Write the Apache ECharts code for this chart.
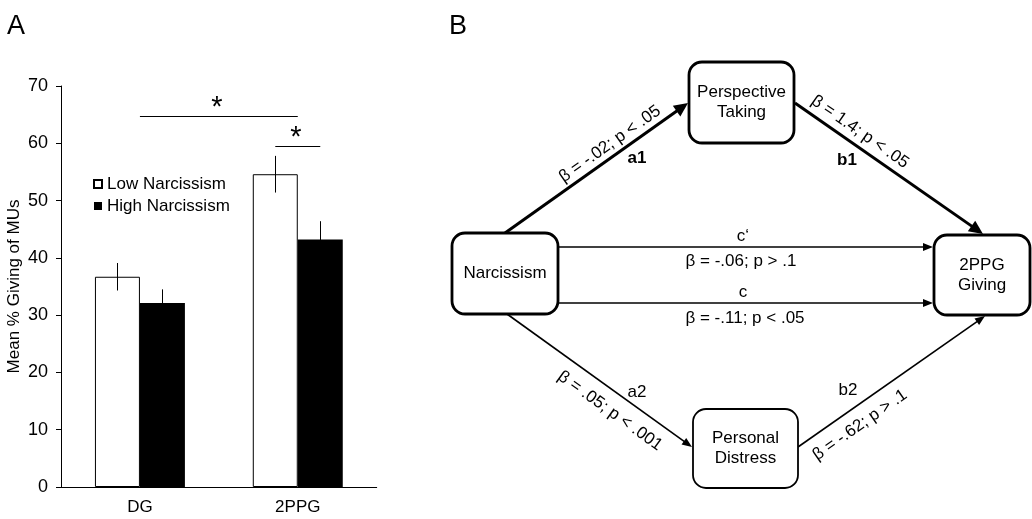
<!DOCTYPE html>
<html><head><meta charset="utf-8">
<script src="https://cdn.jsdelivr.net/npm/echarts@6/dist/echarts.min.js"></script>
<style>html,body{margin:0;padding:0;background:#fff}#chart{width:1032px;height:519px}</style>
</head><body><div id="chart"></div>
<script>
// ---------- Panel A data ----------
const categories = ['DG', '2PPG'];
const seriesNames = ['Low Narcissism', 'High Narcissism'];
const lowValues = [36.7, 54.6];
const highValues = [32.1, 43.2];
const lowErrors = [2.4, 3.2];
const highErrors = [2.4, 3.2];
const yMin = 0, yMax = 70, yStep = 10;
// significance brackets: (category, bar slot: -1 low, 0 centre, 1 high) for each end, height
const sigFromCat = [0, 1];
const sigFromSlot = [0, -1];
const sigToCat = [1, 1];
const sigToSlot = [0, 1];
const sigHeights = [64.7, 59.5];
const sigMarks = ['*', '*'];

// ---------- Panel B data ----------
const nodeNames = ['Narcissism', 'Perspective\nTaking', 'Personal\nDistress', '2PPG\nGiving'];
const pathNames = ['a1', 'b1', 'c\u2018', 'c', 'a2', 'b2'];
const pathStats = ['\u03B2 = -.02; p < .05', '\u03B2 = 1.4; p < .05', '\u03B2 = -.06; p > .1',
                   '\u03B2 = -.11; p < .05', '\u03B2 = .05; p < .001', '\u03B2 = -.62; p > .1'];

// ---------- Panel B layout (diagram coordinates) ----------
const nodeBoxes = [[452,233,558,314],[689,62,794,143],[693,409,798,488],[934,235,1030,315]];
const nodeBorder = [2.8, 2.8, 1.8, 2.8];
const pathEnds = [[505,233,688,103],[795,103,983,234],[558,247,933,247],[558,303,933,303],[507,314,692,447],[798,447,985,316]];
const pathWidth = [3, 3, 1.6, 1.6, 1.6, 1.6];
const statPos = [[610,144],[860,132],[741,261],[745,318],[610,411],[860,425]];
const statRotate = [true, true, false, false, true, true];
const namePos = [[637,158],[847,160],[743,236],[743,292],[637,392],[848,390]];
const nameBold = [true, true, false, false, false, false];

const FF = "'Liberation Sans', Arial, sans-serif";
const CAT_GAP = 0.43;

const chart = echarts.init(document.getElementById('chart'), null, {renderer: 'canvas'});

function barHalfOffset(api) {
  const band = api.size([1, 0])[0];
  return band * (1 - CAT_GAP) / 4;
}

const errData = [];
categories.forEach((c, i) => errData.push([i, lowValues[i] - lowErrors[i], lowValues[i] + lowErrors[i], -1]));
categories.forEach((c, i) => errData.push([i, highValues[i] - highErrors[i], highValues[i] + highErrors[i], 1]));

const sigData = sigHeights.map((h, i) => [sigFromCat[i], sigFromSlot[i], sigToCat[i], sigToSlot[i], h]);

const option = {
  animation: false,
  textStyle: {fontFamily: FF},
  title: [
    {text: 'A', left: 7, top: 13, padding: 0, textStyle: {fontSize: 27, fontWeight: 'normal', color: '#000', fontFamily: FF}},
    {text: 'B', left: 449, top: 13, padding: 0, textStyle: {fontSize: 27, fontWeight: 'normal', color: '#000', fontFamily: FF}}
  ],
  legend: {
    data: seriesNames, orient: 'vertical', left: 93, top: 175.5, padding: 0,
    itemWidth: 8, itemHeight: 8, itemGap: 5, icon: 'rect', selectedMode: false,
    textStyle: {fontSize: 17, color: '#000', lineHeight: 17, fontFamily: FF, padding: [0,0,0,0]}
  },
  grid: [
    {left: 61, top: 86, width: 315.7, height: 401},
    {left: 0, top: 0, width: 1032, height: 519}
  ],
  xAxis: [
    {type: 'category', gridIndex: 0, data: categories,
     axisLine: {lineStyle: {color: '#000', width: 1}},
     axisTick: {length: 5, lineStyle: {color: '#000'}},
     axisLabel: {fontSize: 17, color: '#000', margin: 12, fontFamily: FF}},
    {type: 'value', gridIndex: 1, min: 0, max: 1032, show: false}
  ],
  yAxis: [
    {type: 'value', gridIndex: 0, min: yMin, max: yMax, interval: yStep,
     name: 'Mean % Giving of MUs', nameLocation: 'middle', nameGap: 38,
     nameTextStyle: {fontSize: 17, color: '#000', fontFamily: FF},
     axisLine: {show: true, lineStyle: {color: '#000', width: 1}},
     axisTick: {show: true, length: 5, lineStyle: {color: '#000'}},
     axisLabel: {fontSize: 18, color: '#000', margin: 13, fontFamily: FF},
     splitLine: {show: false}},
    {type: 'value', gridIndex: 1, min: 0, max: 519, inverse: true, show: false}
  ],
  series: [
    {type: 'bar', name: seriesNames[0], xAxisIndex: 0, yAxisIndex: 0, data: lowValues,
     barGap: '0%', barCategoryGap: (CAT_GAP * 100) + '%',
     itemStyle: {color: '#fff', borderColor: '#000', borderWidth: 1}},
    {type: 'bar', name: seriesNames[1], xAxisIndex: 0, yAxisIndex: 0, data: highValues,
     barGap: '0%', barCategoryGap: (CAT_GAP * 100) + '%',
     itemStyle: {color: '#000'}},
    {type: 'custom', xAxisIndex: 0, yAxisIndex: 0, data: errData, z: 5,
     encode: {x: 0, y: [1, 2]},
     renderItem: function (params, api) {
       const off = barHalfOffset(api) * api.value(3);
       const lo = api.coord([api.value(0), api.value(1)]);
       const hi = api.coord([api.value(0), api.value(2)]);
       const x = Math.round(lo[0] + off) + 0.5;
       return {type: 'line', shape: {x1: x, y1: lo[1], x2: x, y2: hi[1]}, style: {stroke: '#000', lineWidth: 1}};
     }},
    {type: 'custom', xAxisIndex: 0, yAxisIndex: 0, data: sigData, z: 5,
     encode: {x: 0, y: 4},
     renderItem: function (params, api) {
       const h = barHalfOffset(api);
       const a = api.coord([api.value(0), api.value(4)]);
       const b = api.coord([api.value(2), api.value(4)]);
       const x1 = a[0] + h * api.value(1), x2 = b[0] + h * api.value(3);
       const y = Math.round(a[1]) + 0.5;
       return {type: 'group', children: [
         {type: 'line', shape: {x1: x1, y1: y, x2: x2, y2: y}, style: {stroke: '#000', lineWidth: 1.2}},
         {type: 'text', x: (x1 + x2) / 2 - 2, y: y - 9,
          style: {text: sigMarks[params.dataIndex], align: 'center', verticalAlign: 'middle', font: '29px ' + FF, fill: '#000'}}
       ]};
     }},
    // Panel B nodes
    {type: 'custom', xAxisIndex: 1, yAxisIndex: 1, data: nodeBoxes, z: 4, clip: false,
     encode: {x: [0, 2], y: [1, 3]},
     renderItem: function (params, api) {
       const i = params.dataIndex;
       const p1 = api.coord([api.value(0), api.value(1)]);
       const p2 = api.coord([api.value(2), api.value(3)]);
       const w = p2[0] - p1[0], hh = p2[1] - p1[1];
       return {type: 'group', children: [
         {type: 'rect', shape: {x: p1[0], y: p1[1], width: w, height: hh, r: 13},
          style: {fill: '#fff', stroke: '#000', lineWidth: nodeBorder[i]}},
         {type: 'text', x: p1[0] + w / 2, y: p1[1] + hh / 2,
          style: {text: nodeNames[i], align: 'center', verticalAlign: 'middle', font: '17px ' + FF, lineHeight: 20, fill: '#000'}}
       ]};
     }},
    // Panel B paths
    {type: 'custom', xAxisIndex: 1, yAxisIndex: 1, data: pathEnds, z: 3, clip: false,
     encode: {x: [0, 2], y: [1, 3]},
     renderItem: function (params, api) {
       const i = params.dataIndex;
       const p1 = api.coord([api.value(0), api.value(1)]);
       const p2 = api.coord([api.value(2), api.value(3)]);
       const dx = p2[0] - p1[0], dy = p2[1] - p1[1];
       const len = Math.hypot(dx, dy), ux = dx / len, uy = dy / len;
       const lw = pathWidth[i];
       const L = lw > 2 ? 14 : 10, W = lw > 2 ? 6.5 : 4;
       const bx = p2[0] - ux * L, by = p2[1] - uy * L;
       const ang = Math.atan2(-dy, dx);
       const sp = api.coord(statPos[i]);
       const np = api.coord(namePos[i]);
       return {type: 'group', children: [
         {type: 'line', shape: {x1: p1[0], y1: p1[1], x2: bx + ux * 2, y2: by + uy * 2}, style: {stroke: '#000', lineWidth: lw}},
         {type: 'polygon', shape: {points: [[p2[0], p2[1]], [bx - uy * W, by + ux * W], [bx + uy * W, by - ux * W]]}, style: {fill: '#000'}},
         {type: 'text', x: sp[0], y: sp[1], rotation: statRotate[i] ? ang : 0,
          style: {text: pathStats[i], align: 'center', verticalAlign: 'middle', font: '17px ' + FF, fill: '#000'}},
         {type: 'text', x: np[0], y: np[1],
          style: {text: pathNames[i], align: 'center', verticalAlign: 'middle', font: (nameBold[i] ? 'bold ' : '') + '17px ' + FF, fill: '#000'}}
       ]};
     }}
  ]
};
chart.setOption(option);
</script></body></html>
